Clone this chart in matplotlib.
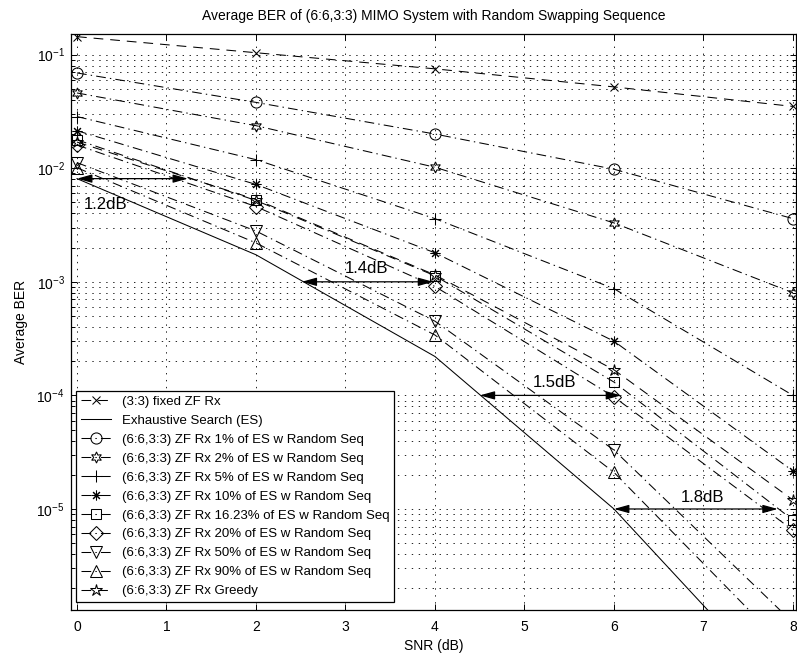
import numpy as np
import matplotlib
matplotlib.use("Agg")
import matplotlib.pyplot as plt
from matplotlib.ticker import LogLocator, NullFormatter

plt.rcParams['font.family'] = ['Liberation Sans', 'DejaVu Sans']
plt.rcParams['mathtext.fontset'] = 'custom'
plt.rcParams['mathtext.rm'] = 'Liberation Sans'
plt.rcParams['mathtext.default'] = 'regular'
plt.rcParams['lines.scale_dashes'] = False

# ---------------- data ----------------
snr = [0, 2, 4, 6, 8]
ber_fixed_zf = [0.144, 0.104, 0.075, 0.052, 0.035]
ber_es = [8.1e-3, 1.73e-3, 2.2e-4, 1.0e-5, 2.0e-7]
ber_1pct = [0.069, 0.038, 0.020, 0.0098, 0.0036]
ber_2pct = [0.046, 0.0237, 0.0102, 0.0033, 0.0008]
ber_5pct = [0.0285, 0.0119, 0.0036, 8.7e-4, 1.0e-4]
ber_10pct = [0.0214, 0.0072, 0.0018, 3.0e-4, 2.16e-5]
ber_1623pct = [0.0178, 0.0052, 0.00113, 1.31e-4, 8.0e-6]
ber_20pct = [0.016, 0.0046, 0.00091, 9.7e-5, 6.5e-6]
ber_50pct = [0.0112, 0.0028, 4.5e-4, 3.3e-5, 1.0e-6]
ber_90pct = [0.0101, 0.0022, 3.4e-4, 2.1e-5, 5.2e-7]
ber_greedy = [0.017, 0.0053, 0.00115, 1.68e-4, 1.2e-5]

labels = ['(3:3) fixed ZF Rx',
          'Exhaustive Search (ES)',
          '(6:6,3:3) ZF Rx 1% of ES w Random Seq',
          '(6:6,3:3) ZF Rx 2% of ES w Random Seq',
          '(6:6,3:3) ZF Rx 5% of ES w Random Seq',
          '(6:6,3:3) ZF Rx 10% of ES w Random Seq',
          '(6:6,3:3) ZF Rx 16.23% of ES w Random Seq',
          '(6:6,3:3) ZF Rx 20% of ES w Random Seq',
          '(6:6,3:3) ZF Rx 50% of ES w Random Seq',
          '(6:6,3:3) ZF Rx 90% of ES w Random Seq',
          '(6:6,3:3) ZF Rx Greedy']

gap_labels = ['1.2dB', '1.4dB', '1.5dB', '1.8dB']
gap_x0 = [0.0, 2.51, 4.5, 6.0]
gap_x1 = [1.24, 3.98, 6.08, 7.83]
gap_y = [8.1e-3, 1.0e-3, 1.0e-4, 1.0e-5]
gap_tx = [0.32, 3.24, 5.33, 6.99]
gap_ty = [4.8e-3, 1.3e-3, 1.3e-4, 1.27e-5]

# ---------------- styling ----------------
dash = (0, (7, 5))
dashdot = (0, (7, 3, 1, 3))
series = [ber_fixed_zf, ber_es, ber_1pct, ber_2pct, ber_5pct, ber_10pct,
          ber_1623pct, ber_20pct, ber_50pct, ber_90pct, ber_greedy]
styles = [
    dict(ls=dash, marker='x', ms=6),
    dict(ls='-', marker='None', ms=6),
    dict(ls=dashdot, marker='o', ms=8),
    dict(ls=dashdot, marker=(6, 1, 0), ms=8),
    dict(ls=dashdot, marker='+', ms=8),
    dict(ls=dashdot, marker=(8, 2, 0), ms=7),
    dict(ls=dashdot, marker='s', ms=7),
    dict(ls=dashdot, marker='D', ms=7),
    dict(ls=dashdot, marker='v', ms=9),
    dict(ls=dashdot, marker='^', ms=9),
    dict(ls=dash, marker='*', ms=9),
]

W, H = 797, 655
fig = plt.figure(figsize=(W / 100, H / 100), dpi=100)
ax = fig.add_axes([71 / W, 1 - 610 / H, (796 - 71) / W, (610 - 34) / H])

for y, st, lab in zip(series, styles, labels):
    ax.plot(snr, y, color='black', lw=0.75, linestyle=st['ls'],
            marker=st['marker'], ms=st['ms'], mfc='none', mec='black',
            mew=0.75, label=lab)

ax.set_yscale('log')
ax.set_xlim(-0.067, 8.034)
ax.set_ylim(1.29e-6, 0.152)
ax.set_xticks(range(0, 9))
ax.yaxis.set_major_locator(LogLocator(base=10, numticks=20))
ax.yaxis.set_minor_locator(LogLocator(base=10, subs=np.arange(2, 10), numticks=20))
ax.yaxis.set_minor_formatter(NullFormatter())

ax.grid(True, which='major', color='black', linestyle=(0, (1, 4)), lw=0.6)
ax.grid(True, which='minor', axis='y', color='black', linestyle=(0, (1, 4)), lw=0.6)
ax.tick_params(which='both', direction='in', top=True, right=True, labelsize=10)
ax.tick_params(which='major', length=4.5, width=0.7)
ax.tick_params(which='minor', length=3, width=0.7)
ax.tick_params(axis='x', which='major', pad=7.5)
ax.tick_params(axis='y', which='major', pad=4.5)
for s in ax.spines.values():
    s.set_linewidth(0.9)

ax.set_xlabel('SNR (dB)', fontsize=10, labelpad=3)
ax.set_ylabel('Average BER', fontsize=10, labelpad=6)
ax.set_title('Average BER of (6:6,3:3) MIMO System with Random Swapping Sequence',
             fontsize=10, pad=10)

for lab, x0, x1, yy, tx, ty in zip(gap_labels, gap_x0, gap_x1, gap_y, gap_tx, gap_ty):
    ax.annotate('', xy=(x1, yy), xytext=(x0, yy),
                arrowprops=dict(arrowstyle='<|-|>,head_length=0.9,head_width=0.25',
                                color='black', lw=0.9, shrinkA=0, shrinkB=0))
    ax.text(tx, ty, lab, fontsize=12, ha='center', va='center')

leg = ax.legend(loc='lower left', bbox_to_anchor=(5 / 725, 8 / 576),
                borderaxespad=0, fontsize=9.5, fancybox=False, framealpha=1,
                edgecolor='black', handlelength=2.3, labelspacing=0.51,
                borderpad=0.35, handletextpad=0.8)
leg.get_frame().set_linewidth(0.9)

fig.savefig('out.png', dpi=100)
